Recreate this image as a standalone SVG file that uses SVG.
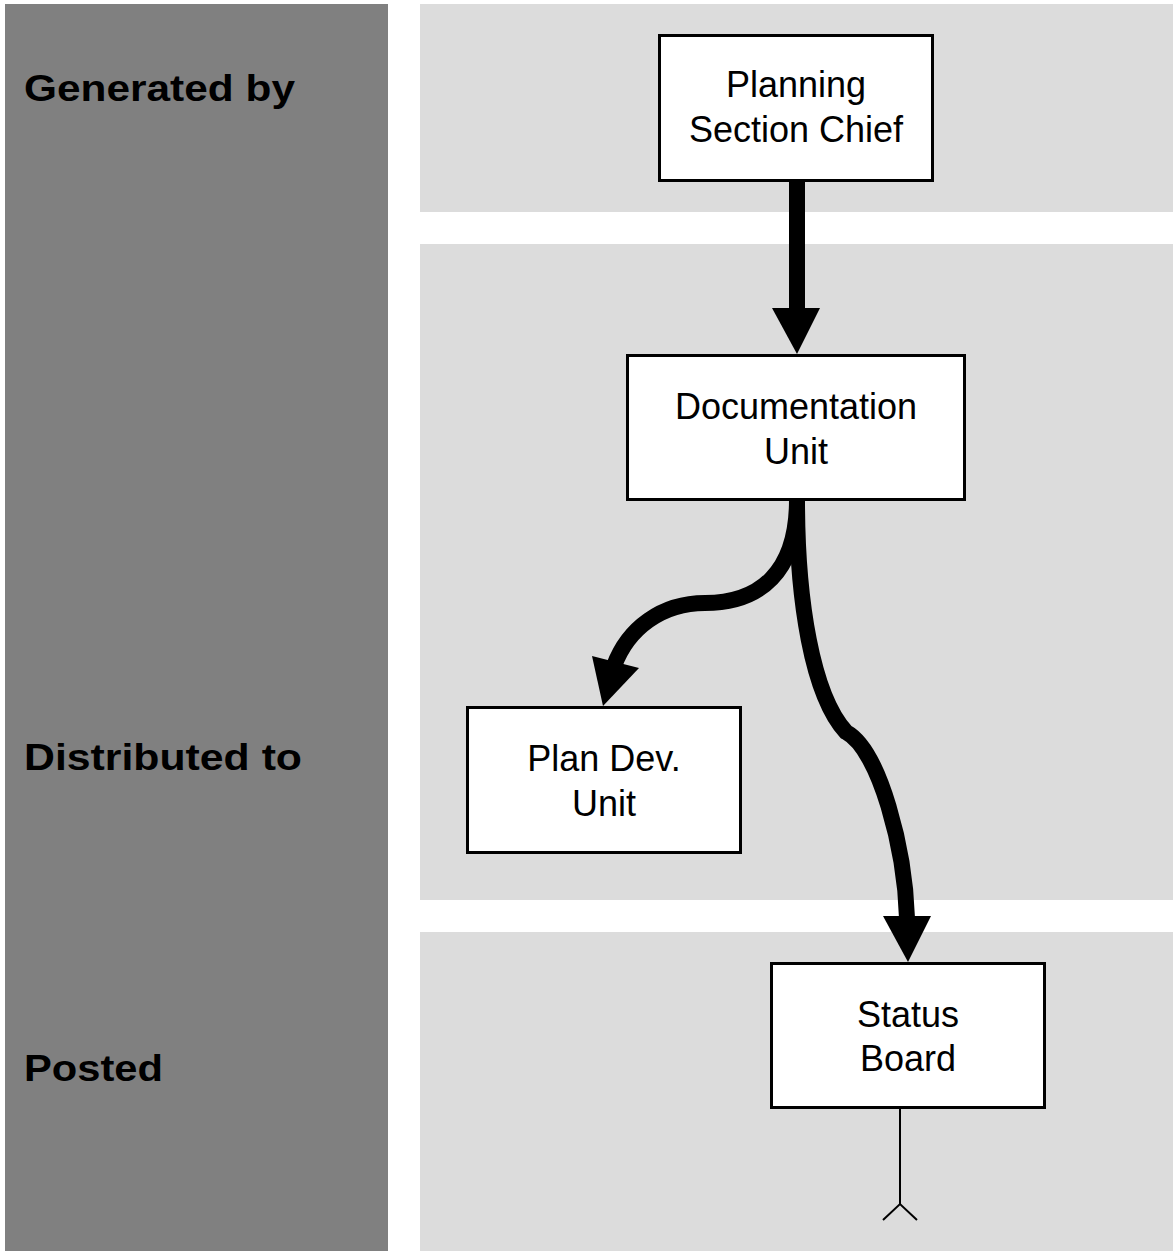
<svg xmlns="http://www.w3.org/2000/svg" width="1173" height="1251" viewBox="0 0 1173 1251">
<style>
.col{fill:#808080}
.lane{fill:#dcdcdc}
.box{fill:#ffffff;stroke:#000000;stroke-width:3}
.t{font-family:"Liberation Sans",Arial,sans-serif;font-size:36px;fill:#000000;text-anchor:middle}
.lbl{font-family:"Liberation Sans",Arial,sans-serif;font-size:37px;font-weight:bold;fill:#000000}
.flow{fill:none;stroke:#000000;stroke-width:16}
.head{fill:#000000}
.thin{fill:none;stroke:#000000;stroke-width:2}
</style>
<rect width="1173" height="1251" fill="#ffffff"/>
<g id="lanes">
<rect class="col" x="5" y="4" width="383" height="1247"/>
<rect class="lane" x="420" y="4" width="753" height="208"/>
<rect class="lane" x="420" y="244" width="753" height="656"/>
<rect class="lane" x="420" y="932" width="753" height="319"/>
<text class="lbl" x="24" y="101" textLength="271" lengthAdjust="spacingAndGlyphs">Generated by</text>
<text class="lbl" x="24" y="770" textLength="278" lengthAdjust="spacingAndGlyphs">Distributed to</text>
<text class="lbl" x="24" y="1081" textLength="139" lengthAdjust="spacingAndGlyphs">Posted</text>
</g>
<g id="connectors">
<path class="flow" d="M797,181 L797,310"/>
<polygon class="head" points="772,308 820,308 797,354"/>
<path class="flow" d="M797,500 C797,572 760,603 705,603 C662,603 628,628 614,666"/>
<polygon class="head" points="592,656 639,668 603,706"/>
<path class="flow" d="M797,500 C797,600 812,695 846,732 C880,750 905,850 907,918"/>
<polygon class="head" points="883,916 931,916 908,962"/>
<path class="thin" d="M900,1108 L900,1204 M883,1220 L900,1204 L917,1220"/>
</g>
<g id="node-planning">
<rect class="box" x="659.5" y="35.5" width="273" height="145"/>
<text class="t" x="796" y="97">Planning</text>
<text class="t" x="796" y="142">Section Chief</text>
</g>
<g id="node-documentation">
<rect class="box" x="627.5" y="355.5" width="337" height="144"/>
<text class="t" x="796" y="419">Documentation</text>
<text class="t" x="796" y="464">Unit</text>
</g>
<g id="node-plandev">
<rect class="box" x="467.5" y="707.5" width="273" height="145"/>
<text class="t" x="604" y="771">Plan Dev.</text>
<text class="t" x="604" y="816">Unit</text>
</g>
<g id="node-status">
<rect class="box" x="771.5" y="963.5" width="273" height="144"/>
<text class="t" x="908" y="1027">Status</text>
<text class="t" x="908" y="1071">Board</text>
</g>
</svg>
